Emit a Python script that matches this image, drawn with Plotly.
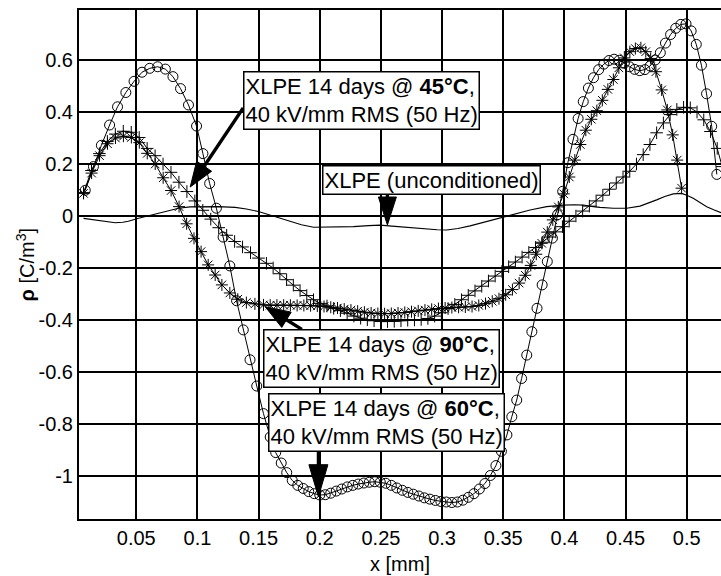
import math
import plotly.graph_objects as go

# ---------------------------------------------------------------
# Space-charge density profiles across the XLPE sample thickness
# ---------------------------------------------------------------

# XLPE, unconditioned (plain line)
x_unc = [0.0069, 0.0140, 0.0206, 0.0270, 0.0328, 0.0390, 0.0435, 0.0519, 0.0600, 0.0682,
         0.0765, 0.0846, 0.0940, 0.1037, 0.1170, 0.1309, 0.1400, 0.1499, 0.1570, 0.1636,
         0.1700, 0.1758, 0.1850, 0.1949, 0.2100, 0.2275, 0.2400, 0.2493, 0.2590, 0.2684,
         0.2780, 0.2875, 0.2960, 0.3038, 0.3130, 0.3229, 0.3360, 0.3501, 0.3610, 0.3719,
         0.3855, 0.3991, 0.4080, 0.4154, 0.4220, 0.4291, 0.4400, 0.4509, 0.4618, 0.4690,
         0.4754, 0.4820, 0.4890, 0.4958, 0.5000, 0.5053, 0.5110, 0.5163, 0.5220, 0.5280]
rho_unc = [-0.009, -0.014, -0.020, -0.024, -0.026, -0.024, -0.020, -0.009, 0.000, 0.010,
           0.020, 0.030, 0.035, 0.036, 0.036, 0.033, 0.027, 0.017, 0.007, -0.003,
           -0.013, -0.022, -0.034, -0.043, -0.043, -0.041, -0.037, -0.035, -0.039, -0.043,
           -0.048, -0.051, -0.053, -0.054, -0.048, -0.038, -0.021, -0.003, 0.011, 0.023,
           0.036, 0.042, 0.043, 0.042, 0.037, 0.033, 0.030, 0.030, 0.038, 0.050,
           0.062, 0.075, 0.085, 0.087, 0.080, 0.068, 0.052, 0.036, 0.024, 0.013]

# XLPE 14 days @ 45 degC (plus markers)
x_45 = [0.0069, 0.0134, 0.0199, 0.0264, 0.0329, 0.0394, 0.0459, 0.0524, 0.0589, 0.0654,
        0.0719, 0.0784, 0.0849, 0.0914, 0.0979, 0.1044, 0.1109, 0.1174, 0.1239, 0.1304,
        0.1369, 0.1434, 0.1499, 0.1564, 0.1619, 0.1674, 0.1729, 0.1784, 0.1839, 0.1894,
        0.1949, 0.2004, 0.2059, 0.2114, 0.2169, 0.2224, 0.2279, 0.2334, 0.2389, 0.2444,
        0.2499, 0.2554, 0.2609, 0.2664, 0.2719, 0.2774, 0.2829, 0.2884, 0.2939, 0.2994,
        0.3049, 0.3104, 0.3159, 0.3214, 0.3269, 0.3324, 0.3379, 0.3434, 0.3489, 0.3544,
        0.3599, 0.3654, 0.3709, 0.3764, 0.3819, 0.3874, 0.3929, 0.3984, 0.4039, 0.4094,
        0.4149, 0.4204, 0.4259, 0.4314, 0.4369, 0.4424, 0.4479, 0.4534, 0.4589, 0.4644,
        0.4699, 0.4754, 0.4809, 0.4864, 0.4919, 0.4974, 0.5029, 0.5084, 0.5139, 0.5194,
        0.5249, 0.5290]
rho_45 = [0.090, 0.175, 0.240, 0.287, 0.315, 0.326, 0.322, 0.302, 0.260, 0.232,
          0.200, 0.168, 0.130, 0.094, 0.058, 0.022, -0.012, -0.045, -0.074, -0.098,
          -0.119, -0.141, -0.162, -0.182, -0.200, -0.222, -0.245, -0.266, -0.287, -0.306,
          -0.322, -0.336, -0.346, -0.355, -0.364, -0.374, -0.385, -0.393, -0.399, -0.403,
          -0.406, -0.406, -0.405, -0.403, -0.401, -0.400, -0.398, -0.394, -0.385, -0.372,
          -0.356, -0.340, -0.322, -0.305, -0.288, -0.270, -0.250, -0.231, -0.213, -0.195,
          -0.177, -0.158, -0.140, -0.121, -0.101, -0.081, -0.061, -0.041, -0.020, 0.000,
          0.019, 0.038, 0.058, 0.080, 0.103, 0.127, 0.150, 0.172, 0.200, 0.236,
          0.275, 0.320, 0.358, 0.390, 0.410, 0.418, 0.416, 0.400, 0.370, 0.325,
          0.260, 0.190]

# XLPE 14 days @ 60 degC (open circles)
x_60 = [0.0083, 0.0150, 0.0215, 0.0282, 0.0347, 0.0415, 0.0482, 0.0547, 0.0610, 0.0675,
        0.0738, 0.0800, 0.0862, 0.0927, 0.0993, 0.1045, 0.1100, 0.1155, 0.1210, 0.1265,
        0.1320, 0.1375, 0.1430, 0.1485, 0.1540, 0.1595,
        0.1640, 0.1685, 0.1730, 0.1775, 0.1820, 0.1865, 0.1910, 0.1955, 0.2000, 0.2045,
        0.2090, 0.2135, 0.2180, 0.2225, 0.2270, 0.2315, 0.2360, 0.2405, 0.2450, 0.2495,
        0.2540, 0.2585, 0.2630, 0.2675, 0.2720, 0.2765, 0.2810, 0.2855, 0.2900, 0.2945,
        0.2990, 0.3035, 0.3080, 0.3125, 0.3170, 0.3215, 0.3260, 0.3305, 0.3350, 0.3395,
        0.3440, 0.3485, 0.3530, 0.3570, 0.3610,
        0.3650, 0.3692, 0.3734, 0.3776, 0.3818, 0.3860, 0.3902, 0.3944, 0.3986, 0.4028,
        0.4070, 0.4112, 0.4154, 0.4196, 0.4238, 0.4280, 0.4322, 0.4364, 0.4406, 0.4448,
        0.4490, 0.4532, 0.4574, 0.4616, 0.4658, 0.4700, 0.4742, 0.4784, 0.4826, 0.4868,
        0.4910, 0.4952, 0.4994, 0.5036, 0.5078, 0.5120, 0.5162, 0.5204, 0.5246]
rho_60 = [0.099, 0.190, 0.272, 0.350, 0.420, 0.475, 0.518, 0.553, 0.568, 0.574,
          0.565, 0.536, 0.490, 0.427, 0.346, 0.240, 0.125, 0.030, -0.081, -0.192,
          -0.326, -0.438, -0.553, -0.654, -0.760, -0.850,
          -0.910, -0.950, -0.987, -1.017, -1.036, -1.048, -1.060, -1.068, -1.073, -1.072,
          -1.066, -1.058, -1.050, -1.042, -1.036, -1.031, -1.027, -1.024, -1.022, -1.024,
          -1.028, -1.036, -1.046, -1.055, -1.063, -1.070, -1.077, -1.084, -1.089, -1.094,
          -1.098, -1.100, -1.102, -1.100, -1.093, -1.082, -1.068, -1.050, -1.029, -0.998,
          -0.960, -0.905, -0.842, -0.772, -0.708,
          -0.625, -0.535, -0.445, -0.355, -0.265, -0.175, -0.085, 0.005, 0.095, 0.205,
          0.295, 0.375, 0.440, 0.492, 0.532, 0.563, 0.584, 0.598, 0.603, 0.599,
          0.588, 0.574, 0.564, 0.559, 0.563, 0.577, 0.600, 0.628, 0.665, 0.698,
          0.722, 0.737, 0.739, 0.712, 0.660, 0.580, 0.470, 0.345, 0.160]

# XLPE 14 days @ 90 degC (asterisks)
x_90 = [0.0069, 0.0135, 0.0200, 0.0265, 0.0330, 0.0395, 0.0460, 0.0525, 0.0590, 0.0655,
        0.0720, 0.0785, 0.0850, 0.0912, 0.0972, 0.1030, 0.1088, 0.1145, 0.1200, 0.1265,
        0.1330, 0.1400, 0.1470, 0.1540,
        0.1595, 0.1650, 0.1705, 0.1760, 0.1815, 0.1870, 0.1925, 0.1980, 0.2035, 0.2090,
        0.2145, 0.2200, 0.2255, 0.2310, 0.2365, 0.2420, 0.2475, 0.2530, 0.2585, 0.2640,
        0.2695, 0.2750, 0.2805, 0.2860, 0.2915, 0.2970, 0.3025, 0.3080, 0.3135, 0.3190,
        0.3245, 0.3300, 0.3355, 0.3410, 0.3465, 0.3520, 0.3575, 0.3630,
        0.3680, 0.3725, 0.3770, 0.3815, 0.3860, 0.3905, 0.3950, 0.3995, 0.4040, 0.4085,
        0.4130, 0.4175, 0.4220, 0.4265, 0.4310, 0.4355, 0.4400, 0.4445, 0.4490, 0.4535,
        0.4580, 0.4625, 0.4665, 0.4705, 0.4748, 0.4795, 0.4841, 0.4885, 0.4922, 0.4958]
rho_90 = [0.087, 0.165, 0.232, 0.278, 0.300, 0.307, 0.302, 0.282, 0.241, 0.200,
          0.147, 0.098, 0.036, -0.030, -0.086, -0.137, -0.188, -0.227, -0.265, -0.296,
          -0.320, -0.333, -0.338, -0.342,
          -0.343, -0.343, -0.343, -0.343, -0.344, -0.344, -0.345, -0.346, -0.348, -0.351,
          -0.354, -0.358, -0.362, -0.366, -0.370, -0.373, -0.375, -0.376, -0.375, -0.373,
          -0.371, -0.368, -0.365, -0.362, -0.359, -0.356, -0.354, -0.352, -0.351, -0.350,
          -0.348, -0.344, -0.337, -0.328, -0.318, -0.303, -0.283, -0.258,
          -0.228, -0.190, -0.147, -0.105, -0.062, -0.015, 0.035, 0.085, 0.150, 0.215,
          0.275, 0.330, 0.372, 0.405, 0.445, 0.487, 0.525, 0.570, 0.608, 0.632,
          0.644, 0.647, 0.632, 0.606, 0.555, 0.485, 0.408, 0.312, 0.215, 0.107]

# Axis ticks
x_ticks = [0.05, 0.1, 0.15, 0.2, 0.25, 0.3, 0.35, 0.4, 0.45, 0.5]
x_tick_text = ["0.05", "0.1", "0.15", "0.2", "0.25", "0.3", "0.35", "0.4", "0.45", "0.5"]
y_ticks = [-1.0, -0.8, -0.6, -0.4, -0.2, 0.0, 0.2, 0.4, 0.6]
y_tick_text = ["-1", "-0.8", "-0.6", "-0.4", "-0.2", "0", "0.2", "0.4", "0.6"]

# ---------------------------------------------------------------
# Figure geometry
# ---------------------------------------------------------------
W, H = 721, 576
ML, MR, MT, MB = 79, 0, 10, 57
X_RANGE = (0.0032, 0.528)
Y_RANGE = (-1.1654, 0.7923)
SX = (W - ML - MR) / (X_RANGE[1] - X_RANGE[0])   # px per mm
SY = (H - MT - MB) / (Y_RANGE[1] - Y_RANGE[0])   # px per C/m^3

FONT = "Liberation Sans, Arial, Helvetica, sans-serif"
INK = "black"

fig = go.Figure()

fig.add_trace(go.Scatter(
    x=x_unc, y=rho_unc, mode="lines", name="XLPE (unconditioned)",
    line=dict(color=INK, width=1.1)))

fig.add_trace(go.Scatter(
    x=x_45, y=rho_45, mode="lines+markers", name="45°C",
    line=dict(color=INK, width=1),
    marker=dict(symbol="cross-thin-open", size=9, color=INK,
                line=dict(color=INK, width=1))))

fig.add_trace(go.Scatter(
    x=x_90, y=rho_90, mode="lines+markers", name="90°C",
    line=dict(color=INK, width=1),
    marker=dict(symbol="asterisk-open", size=10, color=INK,
                line=dict(color=INK, width=1))))

fig.add_trace(go.Scatter(
    x=x_60, y=rho_60, mode="lines+markers", name="60°C",
    line=dict(color=INK, width=1),
    marker=dict(symbol="circle-open", size=10, color=INK,
                line=dict(color=INK, width=1))))


def arrow(tail, tip, head_len, head_w, width=3.3):
    """Filled-head arrow from tail to tip (data coords); head sized in px."""
    tx, ty = tail[0] * SX, tail[1] * SY
    px, py = tip[0] * SX, tip[1] * SY
    dx, dy = px - tx, py - ty
    n = math.hypot(dx, dy)
    ux, uy = dx / n, dy / n
    bx, by = px - ux * head_len, py - uy * head_len
    nx, ny = -uy, ux
    lx, ly = bx + nx * head_w / 2, by + ny * head_w / 2
    rx, ry = bx - nx * head_w / 2, by - ny * head_w / 2
    sx, sy = bx + ux * 3, by + uy * 3
    shaft = dict(type="line", xref="x", yref="y",
                 x0=tail[0], y0=tail[1], x1=sx / SX, y1=sy / SY,
                 line=dict(color=INK, width=width))
    head = dict(type="path", xref="x", yref="y",
                path=f"M {px / SX},{py / SY} L {lx / SX},{ly / SY} L {rx / SX},{ry / SY} Z",
                fillcolor=INK, line=dict(color=INK, width=1))
    return [shaft, head]


shapes = []
shapes += arrow((0.1374, 0.4154), (0.0941, 0.1115), 25, 18)
shapes += arrow((0.2553, 0.0873), (0.2553, -0.0346), 28, 18)
shapes += arrow((0.1854, -0.4358), (0.1554, -0.3488), 25, 18)
shapes += arrow((0.1989, -0.9027), (0.1989, -1.0796), 32, 19)


def label_box(x, y, text):
    return dict(x=x, y=y, xref="x", yref="y", xanchor="left", yanchor="top",
                text=text, showarrow=False, align="left",
                font=dict(family=FONT, size=22, color=INK),
                bgcolor="white", bordercolor=INK, borderwidth=1.5, borderpad=1)


annotations = [
    label_box(0.1372, 0.5588, "XLPE 14 days @ <b>45°C</b>,<br>40 kV/mm RMS (50 Hz)"),
    label_box(0.2017, 0.1962, "XLPE (unconditioned)"),
    label_box(0.1540, -0.4358, "XLPE 14 days @ <b>90°C</b>,<br>40 kV/mm RMS (50 Hz)"),
    label_box(0.1573, -0.6819, "XLPE 14 days @ <b>60°C</b>,<br>40 kV/mm RMS (50 Hz)"),
    # axis titles
    dict(x=0.5, y=(519 - 564) / (H - MT - MB), xref="paper", yref="paper",
         xanchor="center", yanchor="middle", showarrow=False,
         text="x [mm]", font=dict(family=FONT, size=20, color=INK)),
    dict(x=(25 - ML) / (W - ML - MR), y=0.5, xref="paper", yref="paper",
         xanchor="center", yanchor="middle", showarrow=False, textangle=-90,
         text="<b>ρ</b> [C/m<sup>3</sup>]", font=dict(family=FONT, size=20, color=INK)),
]

fig.update_layout(
    width=W, height=H,
    margin=dict(l=ML, r=MR, t=MT, b=MB, pad=0),
    paper_bgcolor="white", plot_bgcolor="white",
    showlegend=False,
    font=dict(family=FONT, size=20, color=INK),
    shapes=shapes,
    annotations=annotations,
)

fig.update_xaxes(
    range=list(X_RANGE), tickvals=x_ticks, ticktext=x_tick_text,
    showgrid=True, gridcolor=INK, gridwidth=1.6,
    showline=True, linecolor=INK, linewidth=2, mirror=True,
    zeroline=False, ticks="", ticklabelstandoff=0,
    tickfont=dict(family=FONT, size=20, color=INK))

fig.update_yaxes(
    range=list(Y_RANGE), tickvals=y_ticks, ticktext=y_tick_text,
    showgrid=True, gridcolor=INK, gridwidth=1.6,
    showline=True, linecolor=INK, linewidth=2, mirror=False,
    zeroline=False, ticks="", ticklabelstandoff=0,
    tickfont=dict(family=FONT, size=20, color=INK))

fig.write_html("out.html")
